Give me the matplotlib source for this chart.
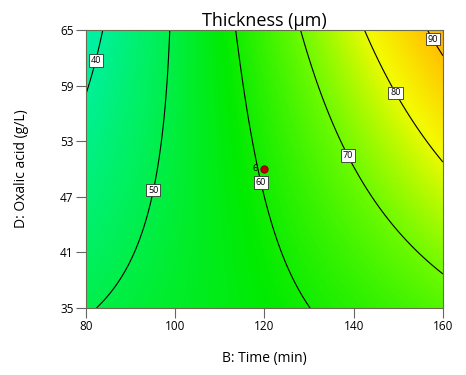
import matplotlib
matplotlib.use("Agg")
import matplotlib.pyplot as plt
from matplotlib.colors import LinearSegmentedColormap
import numpy as np

plt.rcParams['font.family'] = ['Open Sans', 'DejaVu Sans']

# quadratic model in coded units: b0, B, D, BD, B^2, D^2
coef = [60.662, 18.120, 3.347, 9.365, 0.586, 0.408]
time_range = [80, 160]
acid_range = [35, 65]
levels = [40, 50, 60, 70, 80, 90]
label_pos = [(82.2, 61.7), (94.3, 47.8), (118.8, 48.5), (138.7, 51.5), (149.7, 58.3), (158.0, 64.1)]
center_time = [120]
center_acid = [50]
center_reps = [6]

# colour ramp (value, rgb)
ramp_vals = [20, 37, 48, 58, 70, 81, 89, 100]
ramp_rgb = [(0, 200, 255), (0, 240, 175), (0, 240, 90), (0, 235, 0),
            (110, 250, 0), (245, 250, 0), (255, 200, 0), (255, 130, 0)]
vmin, vmax = ramp_vals[0], ramp_vals[-1]
cmap = LinearSegmentedColormap.from_list(
    'de', [((v - vmin) / (vmax - vmin), tuple(c / 255 for c in rgb)) for v, rgb in zip(ramp_vals, ramp_rgb)])

B, D = np.meshgrid(np.linspace(*time_range, 300), np.linspace(*acid_range, 300))
X = (B - 120) / 40
Z = (D - 50) / 15
T = coef[0] + coef[1] * X + coef[2] * Z + coef[3] * X * Z + coef[4] * X ** 2 + coef[5] * Z ** 2

fig = plt.figure(figsize=(4.66, 3.75), dpi=100)
ax = fig.add_axes([0.1845, 0.1787, 0.766, 0.7413])
ax.imshow(T, extent=[*time_range, *acid_range], origin='lower', aspect='auto',
          cmap=cmap, vmin=vmin, vmax=vmax, interpolation='bilinear')
cs = ax.contour(B, D, T, levels=levels, colors='k', linewidths=0.8)
labs = ax.clabel(cs, fmt='%d', inline=False, fontsize=6.5, manual=label_pos)
for t in labs:
    t.set_rotation(0)
    t.set_bbox(dict(boxstyle='square,pad=0.2', fc='white', ec='#333333', lw=0.6))

ax.scatter(center_time, center_acid, s=28, color='#c00000', edgecolor='#700000', lw=0.6, zorder=5)
for bt, da, n in zip(center_time, center_acid, center_reps):
    ax.text(bt - 1.6, da, str(n), fontsize=6.5, ha='right', va='center')

ax.set_xlim(*time_range)
ax.set_ylim(*acid_range)
ax.set_xticks(np.arange(80, 161, 20))
ax.set_yticks(np.arange(35, 66, 6))
ax.tick_params(direction='out', length=7, width=0.8, color='#666666', labelsize=8.5, pad=2)
for s in ax.spines.values():
    s.set_color('#6b6b50')
    s.set_linewidth(0.8)

ax.set_title('Thickness (μm)', fontsize=13, pad=3)
ax.set_xlabel('B: Time (min)', fontsize=10)
ax.set_ylabel('D: Oxalic acid (g/L)', fontsize=10)
ax.xaxis.set_label_coords(0.5, -0.155)
ax.yaxis.set_label_coords(-0.16, 0.5)

fig.savefig('out.png')
